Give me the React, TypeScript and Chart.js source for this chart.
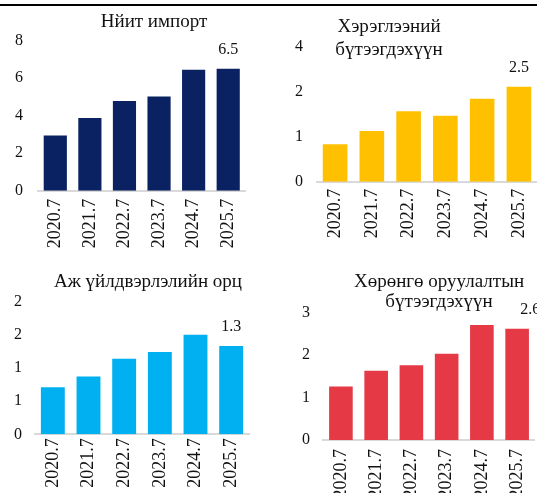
import React, { useEffect, useRef } from "react";
import { Chart, registerables } from "chart.js";

Chart.register(...registerables);

const categories = ["2020.7", "2021.7", "2022.7", "2023.7", "2024.7", "2025.7"];

const totalImport = [2.95, 3.88, 4.78, 5.03, 6.45, 6.51];
const consumerGoods = [1.0, 1.35, 1.88, 1.76, 2.21, 2.53];
const industrialInputs = [0.71, 0.87, 1.14, 1.24, 1.5, 1.33];
const capitalGoods = [1.26, 1.63, 1.76, 2.03, 2.71, 2.62];

const titleTotal = ["Нйит импорт"];
const titleConsumer = ["Хэрэглээний", "бүтээгдэхүүн"];
const titleIndustrial = ["Аж үйлдвэрлэлийн орц"];
const titleCapital = ["Хөрөнгө оруулалтын", "бүтээгдэхүүн"];

const FONT = "'Liberation Serif', 'Times New Roman', serif";

type PanelCfg = {
  values: number[];
  title: string[];
  color: string;
  max: number;
  step: number;
  box: { x: number; y: number; w: number; h: number };
  area: { left: number; right: number; top: number; bottom: number };
  yLabelRight: number;
  xPad: number;
  titlePos: { x: number; y: number; lh: number };
  labelDx: number;
};

const panels: PanelCfg[] = [
  {
    values: totalImport,
    title: titleTotal,
    color: "#0B2262",
    max: 8,
    step: 2,
    box: { x: 0, y: 0, w: 268, h: 250 },
    area: { left: 38, right: 245.5, top: 40.7, bottom: 190.7 },
    yLabelRight: 23,
    xPad: 8,
    titlePos: { x: 154, y: 22, lh: 23 },
    labelDx: 0,
  },
  {
    values: consumerGoods,
    title: titleConsumer,
    color: "#FFC000",
    max: 3.6,
    step: 1.2,
    box: { x: 268, y: 0, w: 280, h: 250 },
    area: { left: 48.7, right: 274, top: 46.7, bottom: 181.7 },
    yLabelRight: 35,
    xPad: 7,
    titlePos: { x: 121, y: 27, lh: 23 },
    labelDx: 0,
  },
  {
    values: industrialInputs,
    title: titleIndustrial,
    color: "#00B0F0",
    max: 2,
    step: 0.5,
    box: { x: 0, y: 250, w: 268, h: 243 },
    area: { left: 35, right: 249, top: 51.7, bottom: 184.3 },
    yLabelRight: 22,
    xPad: 4,
    titlePos: { x: 148, y: 31.7, lh: 23 },
    labelDx: 0,
  },
  {
    values: capitalGoods,
    title: titleCapital,
    color: "#E63946",
    max: 3,
    step: 1,
    box: { x: 268, y: 250, w: 280, h: 243 },
    area: { left: 55.3, right: 276.7, top: 62.7, bottom: 190 },
    yLabelRight: 42,
    xPad: 9,
    titlePos: { x: 171, y: 31.7, lh: 20 },
    labelDx: 13,
  },
];

function Panel({ cfg }: { cfg: PanelCfg }) {
  const ref = useRef<HTMLCanvasElement | null>(null);
  useEffect(() => {
    if (!ref.current) return;
    const { box, area } = cfg;
    const overlay = {
      id: "overlay",
      afterDatasetsDraw(chart: any) {
        const ctx = chart.ctx;
        const meta = chart.getDatasetMeta(0);
        const last = meta.data.length - 1;
        const el = meta.data[last];
        ctx.save();
        ctx.fillStyle = "#111";
        ctx.textAlign = "center";
        ctx.textBaseline = "middle";
        ctx.font = `16px ${FONT}`;
        ctx.fillText(cfg.values[last].toFixed(1), el.x + cfg.labelDx, el.y - 19);
        ctx.font = `19px ${FONT}`;
        cfg.title.forEach((t, k) => {
          ctx.fillText(t, cfg.titlePos.x, cfg.titlePos.y + k * cfg.titlePos.lh);
        });
        ctx.restore();
      },
    };
    const chart = new Chart(ref.current, {
      type: "bar",
      data: {
        labels: categories,
        datasets: [
          {
            data: cfg.values,
            backgroundColor: cfg.color,
            barPercentage: 0.67,
            categoryPercentage: 1,
          },
        ],
      },
      options: {
        animation: false,
        responsive: false,
        devicePixelRatio: 1,
        layout: {
          padding: {
            left: 0,
            top: area.top,
            right: box.w - area.right,
            bottom: 0,
          },
        },
        plugins: {
          legend: { display: false },
          title: { display: false },
          tooltip: { enabled: false },
        },
        scales: {
          x: {
            grid: { display: false, drawTicks: false },
            border: { display: true, color: "#D9D9D9", width: 2 },
            ticks: {
              maxRotation: 90,
              minRotation: 90,
              autoSkip: false,
              padding: cfg.xPad,
              color: "#111",
              font: { family: FONT, size: 18 },
            },
            afterFit: (s: any) => {
              s.height = box.h - area.bottom;
            },
          },
          y: {
            min: 0,
            max: cfg.max,
            grid: { display: false, drawTicks: false },
            border: { display: false },
            ticks: {
              stepSize: cfg.step,
              padding: area.left - cfg.yLabelRight,
              color: "#111",
              font: { family: FONT, size: 16 },
              callback: (v: any) => String(Math.round(Number(v) + 1e-9)),
            },
            afterFit: (s: any) => {
              s.width = area.left;
            },
          },
        },
      },
      plugins: [overlay],
    });
    return () => chart.destroy();
  }, [cfg]);
  const { box } = cfg;
  return (
    <canvas
      ref={ref}
      width={box.w}
      height={box.h}
      style={{
        position: "absolute",
        left: box.x,
        top: box.y,
        width: box.w,
        height: box.h,
      }}
    />
  );
}

export default function App() {
  return (
    <div
      style={{
        position: "absolute",
        left: 0,
        top: 0,
        width: 537,
        height: 493,
        overflow: "hidden",
        background: "#fff",
      }}
    >
      {panels.map((p, i) => (
        <Panel key={i} cfg={p} />
      ))}
      <div
        style={{
          position: "absolute",
          left: 0,
          top: 4,
          width: 537,
          height: 2,
          background: "#000",
        }}
      />
    </div>
  );
}
